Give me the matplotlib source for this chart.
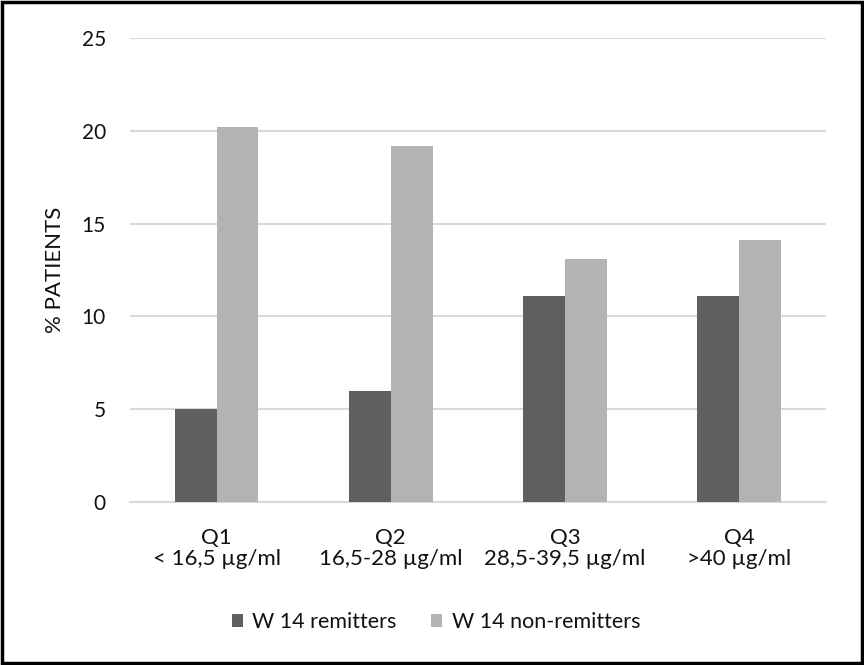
import numpy as np
import matplotlib
matplotlib.use('Agg')
import matplotlib.pyplot as plt
from matplotlib.patches import Rectangle

plt.rcParams['font.family'] = ['Lato', 'DejaVu Sans']

categories = ['Q1\n< 16,5 µg/ml', 'Q2\n16,5-28 µg/ml', 'Q3\n28,5-39,5 µg/ml', 'Q4\n>40 µg/ml']
remitters = [5.0, 6.0, 11.1, 11.1]
non_remitters = [20.2, 19.2, 13.1, 14.1]
yticks = [0, 5, 10, 15, 20, 25]

fig = plt.figure(figsize=(8.64, 6.65), dpi=100)
ax = fig.add_axes([0.150, 0.245, 0.806, 0.698])

x = np.arange(len(categories))
w = 0.24
ax.bar(x - w / 2, remitters, w, color='#5f5f5f', label='W 14 remitters', zorder=3)
ax.bar(x + w / 2, non_remitters, w, color='#b3b3b3', label='W 14 non-remitters', zorder=3)

ax.set_xlim(-0.5, len(categories) - 0.5)
ax.set_ylim(0, 25)
ax.set_yticks(yticks)
ax.set_xticks(x)
ax.set_xticklabels(categories, fontsize=16, linespacing=1.05)
ax.tick_params(axis='y', length=0, labelsize=15, colors='#111111', pad=17)
ax.tick_params(axis='x', length=0, colors='#111111', pad=19)
ax.grid(axis='y', color='#d9d9d9', linewidth=1.5, zorder=0)
for s in ['top', 'right', 'left']:
    ax.spines[s].set_visible(False)
ax.spines['bottom'].set_color('#d9d9d9')
ax.spines['bottom'].set_linewidth(1.5)
ax.set_ylabel('% PATIENTS', fontsize=16, labelpad=12, color='#111111')

ax.legend(loc='center', bbox_to_anchor=(0.44, -0.259), ncol=2, frameon=False,
          fontsize=15.5, handlelength=0.5, handleheight=0.55, handletextpad=0.45,
          columnspacing=1.6, labelcolor='#111111')

fig.patches.append(Rectangle((0.002, 0.003), 0.996, 0.994, transform=fig.transFigure,
                             fill=False, edgecolor='black', linewidth=2.5))

fig.savefig('out.png', dpi=100)
